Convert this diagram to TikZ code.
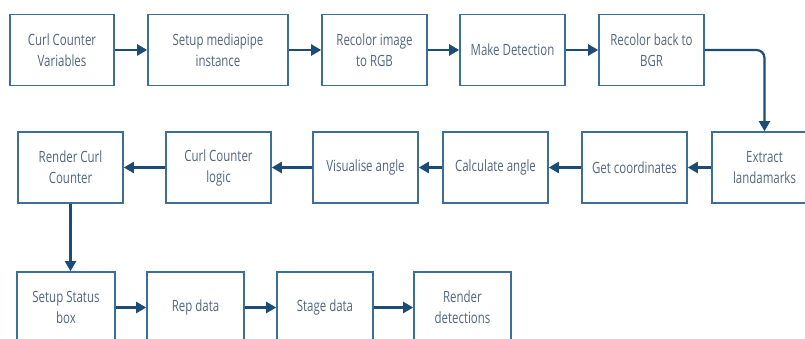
\documentclass[tikz,border=0pt]{standalone}
\usepackage{fontspec}
\setmainfont{Open Sans}[FakeStretch=0.74]
\usepackage{tikz}
\usetikzlibrary{arrows.meta}

\definecolor{boxline}{HTML}{3D6D99}
\definecolor{flowline}{HTML}{1B4C78}
\definecolor{boxtext}{HTML}{52667F}

\tikzset{
  box/.style={draw=boxline, line width=1.6pt, fill=white, align=center, inner sep=2pt,
    text=boxtext, font=\fontsize{15.5}{21}\selectfont, minimum height=71pt},
  flow/.style={draw=flowline, line width=2.2pt, -{Triangle[length=10pt,width=11pt]}}
}

\begin{document}
\begin{tikzpicture}[x=1pt,y=1pt,yscale=-1,xscale=1]
\useasboundingbox (0,0) rectangle (805,339);
\begin{scope}
\clip (0,0) rectangle (805,339);

% Text Node
\node [box, minimum width=104pt] (cv) at (62,50) {Curl Counter\\Variables};
% Text Node
\node [box, minimum width=140pt] (smi) at (218,50) {Setup mediapipe\\instance};
% Text Node
\node [box, minimum width=105pt] (rgb) at (374.5,50) {Recolor image\\to RGB};
% Text Node
\node [box, minimum width=105pt] (md) at (512.5,50) {Make Detection};
% Text Node
\node [box, minimum width=105pt] (bgr) at (651.5,50) {Recolor back to\\BGR};

% Text Node
\node [box, minimum width=105pt] (el) at (764.5,167.5) {Extract\\landamarks};
% Text Node
\node [box, minimum width=105pt] (gc) at (634.5,167.5) {Get coordinates};
% Text Node
\node [box, minimum width=105pt] (ca) at (495.5,167.5) {Calculate angle};
% Text Node
\node [box, minimum width=105pt] (va) at (365.5,167.5) {Visualise angle};
% Text Node
\node [box, minimum width=105pt] (ccl) at (218.5,167.5) {Curl Counter\\logic};
% Text Node
\node [box, minimum width=105pt] (rcc) at (70.5,167.5) {Render Curl\\Counter};

% Text Node
\node [box, minimum width=98pt] (ssb) at (66,307.5) {Setup Status\\box};
% Text Node
\node [box, minimum width=97pt] (rep) at (195.5,307.5) {Rep data};
% Text Node
\node [box, minimum width=96pt] (stage) at (325,307.5) {Stage data};
% Text Node
\node [box, minimum width=97pt] (rd) at (462.5,307.5) {Render\\detections};

% Connection
\draw [flow] (cv) -- (smi);
% Connection
\draw [flow] (smi) -- (rgb);
% Connection
\draw [flow] (rgb) -- (md);
% Connection
\draw [flow] (md) -- (bgr);
% Connection
\draw [flow, rounded corners=8pt] (bgr.east) -| (el.north);
% Connection
\draw [flow] (el) -- (gc);
% Connection
\draw [flow] (gc) -- (ca);
% Connection
\draw [flow] (ca) -- (va);
% Connection
\draw [flow] (va) -- (ccl);
% Connection
\draw [flow] (ccl) -- (rcc);
% Connection
\draw [flow] (rcc.south) -- (rcc.south |- ssb.north);
% Connection
\draw [flow] (ssb) -- (rep);
% Connection
\draw [flow] (rep) -- (stage);
% Connection
\draw [flow] (stage) -- (rd);

\end{scope}
\end{tikzpicture}
\end{document}
